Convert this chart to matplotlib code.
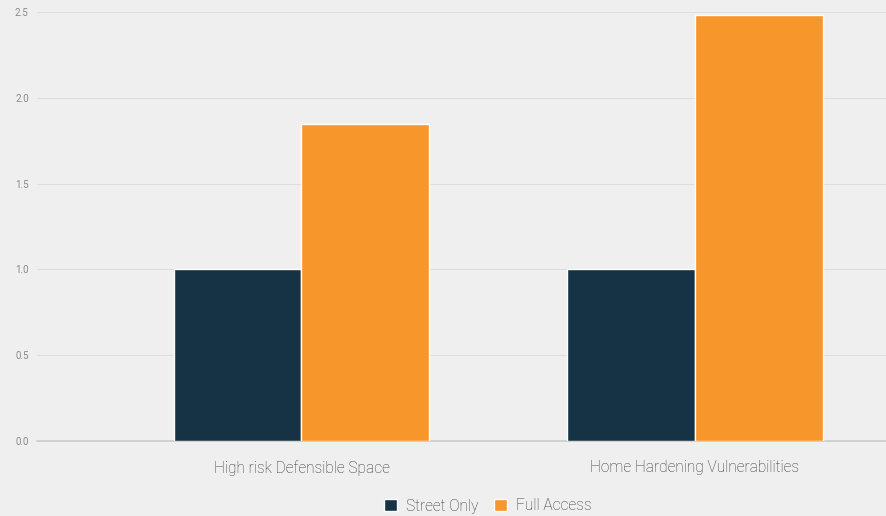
import numpy as np
import matplotlib
matplotlib.use("Agg")
import matplotlib.pyplot as plt

categories = ["High risk Defensible Space", "Home Hardening Vulnerabilities"]
street_only = [1.0, 1.0]
full_access = [1.85, 2.48]
series_names = ["Street Only", "Full Access"]
yticks = [0.0, 0.5, 1.0, 1.5, 2.0, 2.5]

plt.rcParams['font.family'] = ['Roboto', 'DejaVu Sans']
bg = '#efefef'
navy = '#163345'
orange = '#f7962a'

fig = plt.figure(figsize=(8.87, 5.16), dpi=100, facecolor=bg)
ax = fig.add_axes([37/887, 75/516, 850/887, 429/516], facecolor=bg)

x = np.arange(len(categories))
w = 0.325
ax.bar(x - w/2, street_only, w, color=navy, edgecolor='white', linewidth=1.0, label=series_names[0], zorder=3)
ax.bar(x + w/2, full_access, w, color=orange, edgecolor='white', linewidth=1.0, label=series_names[1], zorder=3)

ax.set_xlim(-0.672, 1.488)
ax.set_ylim(0, 2.5)
ax.set_yticks(yticks)
ax.set_yticklabels([f"{v:.1f}" for v in yticks], fontsize=7, color='#888888')
ax.set_xticks(x)
ax.set_xticklabels(categories, fontsize=11.2, color='#333333', fontweight='light')
ax.tick_params(axis='both', length=0)
ax.tick_params(axis='y', pad=6)
ax.tick_params(axis='x', pad=14)
ax.grid(axis='y', color='#dedede', linewidth=0.8, zorder=0)
for s in ['top', 'right', 'left']:
    ax.spines[s].set_visible(False)
ax.spines['bottom'].set_color('#cccccc')
ax.spines['bottom'].set_linewidth(1.2)

fig.legend(loc='center', bbox_to_anchor=(488/887, 10/516), ncol=2, frameon=False,
           prop={'size': 11.2, 'weight': 'light'}, handlelength=0.8, handleheight=0.8,
           handletextpad=0.6, columnspacing=1.0, labelcolor='#333333')

fig.savefig('out.png', dpi=100, facecolor=bg)
